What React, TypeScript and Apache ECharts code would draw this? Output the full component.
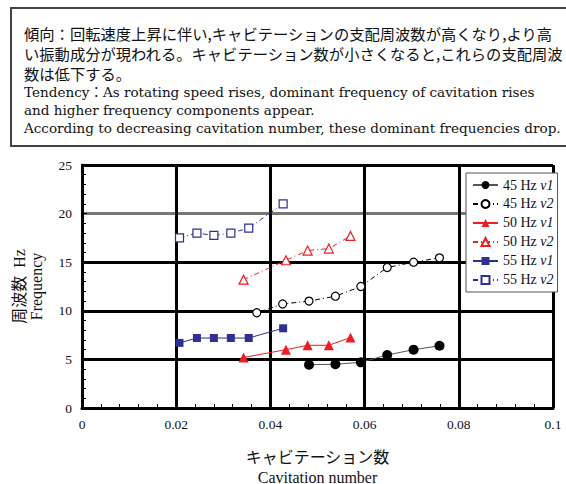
import React, { useEffect, useRef } from "react";
import * as echarts from "echarts";

// Cavitation number vs dominant frequency for three rotating speeds
const s45v1: [number, number][] = [
  [0.0482, 4.45], [0.0538, 4.5], [0.0592, 4.7], [0.0648, 5.45], [0.0704, 6.0], [0.0759, 6.4],
];
const s45v2: [number, number][] = [
  [0.0371, 9.8], [0.0426, 10.7], [0.0482, 11.0], [0.0538, 11.5], [0.0592, 12.5],
  [0.0648, 14.45], [0.0704, 15.0], [0.0759, 15.45],
];
const s50v1: [number, number][] = [
  [0.0343, 5.2], [0.0433, 6.0], [0.0479, 6.45], [0.0524, 6.45], [0.057, 7.25],
];
const s50v2: [number, number][] = [
  [0.0343, 13.2], [0.0433, 15.2], [0.0479, 16.2], [0.0524, 16.4], [0.057, 17.7],
];
const s55v1: [number, number][] = [
  [0.0207, 6.7], [0.0244, 7.2], [0.028, 7.2], [0.0316, 7.2], [0.0354, 7.2], [0.0427, 8.2],
];
const s55v2: [number, number][] = [
  [0.0207, 17.5], [0.0244, 18.0], [0.028, 17.75], [0.0316, 18.0], [0.0354, 18.5], [0.0427, 21.0],
];

const seriesNames = ["45 Hz v1", "45 Hz v2", "50 Hz v1", "50 Hz v2", "55 Hz v1", "55 Hz v2"];

const noteLines = [
  "傾向：回転速度上昇に伴い,キャビテーションの支配周波数が高くなり,より高",
  "い振動成分が現われる。キャビテーション数が小さくなると,これらの支配周波",
  "数は低下する。",
  "Tendency：As rotating speed rises, dominant frequency of cavitation rises",
  "and higher frequency components appear.",
  "According to decreasing cavitation number, these dominant frequencies drop.",
];
const noteY = [33, 53, 73, 92, 110, 128];

const SERIF = "'Liberation Serif', 'Noto Sans CJK JP', serif";
const WIDE_SERIF = "'DejaVu Serif', 'Noto Sans CJK JP', serif";
const RED = "#ee1c24";
const BLUE = "#2e3192";
const DASHDOT = [5, 3, 1, 3];

export default function App() {
  const ref = useRef<HTMLDivElement>(null);

  useEffect(() => {
    if (!ref.current) return;
    const chart = echarts.init(ref.current, null, { renderer: "svg" });

    const mk = (
      name: string,
      data: [number, number][],
      color: string,
      lineColor: string,
      symbol: string,
      size: number,
      filled: boolean,
      dashed: boolean
    ) => ({
      name,
      type: "line",
      data,
      symbol,
      symbolSize: size,
      showSymbol: true,
      z: 5,
      itemStyle: {
        color: filled ? color : "#fff",
        borderColor: color,
        borderWidth: filled ? 0 : 1.2,
      },
      lineStyle: {
        color: lineColor,
        width: 1,
        type: dashed ? DASHDOT : "solid",
      },
    });

    chart.setOption({
      animation: false,
      textStyle: { fontFamily: SERIF },
      graphic: [
        {
          type: "rect",
          shape: { x: 11, y: 8, width: 560, height: 138 },
          style: { fill: "none", stroke: "#444", lineWidth: 2 },
        },
        ...noteLines.map((t, i) => ({
          type: "text",
          x: 24,
          y: noteY[i],
          style: {
            text: t,
            fill: "#111",
            font: i < 3 ? `15.3px 'Noto Sans CJK JP', sans-serif` : `13.55px ${WIDE_SERIF}`,
            textVerticalAlign: "middle",
          },
        })),
      ],
      grid: { left: 82, right: 13, top: 165, bottom: 76, outerBoundsMode: "none" },
      legend: {
        orient: "vertical",
        left: 466,
        top: 173,
        width: 93,
        padding: [5, 4, 5, 6],
        itemWidth: 25,
        itemHeight: 10,
        itemGap: 5,
        borderColor: "#555",
        borderWidth: 1,
        backgroundColor: "#fff",
        data: seriesNames,
        formatter: (n: string) => {
          const p = n.split(" ");
          return `{a|${p[0]} ${p[1]} }{b|${p[2]}}`;
        },
        textStyle: {
          fontFamily: SERIF,
          fontSize: 14,
          color: "#111",
          rich: {
            a: { fontFamily: SERIF, fontSize: 14, color: "#111" },
            b: { fontFamily: SERIF, fontSize: 14, color: "#111", fontStyle: "italic" },
          },
        },
      },
      xAxis: {
        type: "value",
        min: 0,
        max: 0.1,
        interval: 0.02,
        name: "キャビテーション数\nCavitation number",
        nameLocation: "middle",
        nameGap: 39,
        nameTextStyle: { fontFamily: SERIF, fontSize: 16, color: "#111", lineHeight: 20, verticalAlign: "top" },
        axisLine: { show: true, lineStyle: { color: "#000", width: 3 } },
        axisTick: { show: true, inside: true, length: 5, lineStyle: { color: "#000", width: 1 } },
        minorTick: { show: true, splitNumber: 5, length: 4, lineStyle: { color: "#000", width: 1 } },
        axisLabel: {
          fontFamily: SERIF,
          fontSize: 13.5,
          color: "#111",
          margin: 10,
          formatter: (v: number) => (v === 0 ? "0" : String(+v.toFixed(2))),
        },
        splitLine: { show: true, lineStyle: { color: "#000", width: 3 } },
      },
      yAxis: {
        type: "value",
        min: 0,
        max: 25,
        interval: 5,
        name: "周波数  Hz\nFrequency",
        nameLocation: "middle",
        nameRotate: 90,
        nameGap: 37,
        nameTextStyle: { fontFamily: SERIF, fontSize: 16, color: "#111", lineHeight: 17 },
        axisLine: { show: true, lineStyle: { color: "#000", width: 3 } },
        axisTick: { show: true, inside: true, length: 5, lineStyle: { color: "#000", width: 1 } },
        minorTick: { show: true, splitNumber: 5, length: 4, lineStyle: { color: "#000", width: 1 } },
        axisLabel: { fontFamily: SERIF, fontSize: 13.5, color: "#111", margin: 10 },
        splitLine: {
          show: true,
          lineStyle: { color: ["#000", "#000", "#000", "#000", "#777", "#000"], width: 3 },
        },
      },
      series: [
        mk(seriesNames[0], s45v1, "#000", "#555", "circle", 10, true, false),
        mk(seriesNames[1], s45v2, "#000", "#000", "circle", 8, false, true),
        mk(seriesNames[2], s50v1, RED, RED, "triangle", 10, true, false),
        mk(seriesNames[3], s50v2, RED, RED, "triangle", 9, false, true),
        mk(seriesNames[4], s55v1, BLUE, BLUE, "rect", 8, true, false),
        mk(seriesNames[5], s55v2, BLUE, BLUE, "rect", 8, false, true),
      ],
    });

    return () => chart.dispose();
  }, []);

  return <div ref={ref} style={{ width: 566, height: 484, position: "absolute", left: 0, top: 0 }} />;
}
